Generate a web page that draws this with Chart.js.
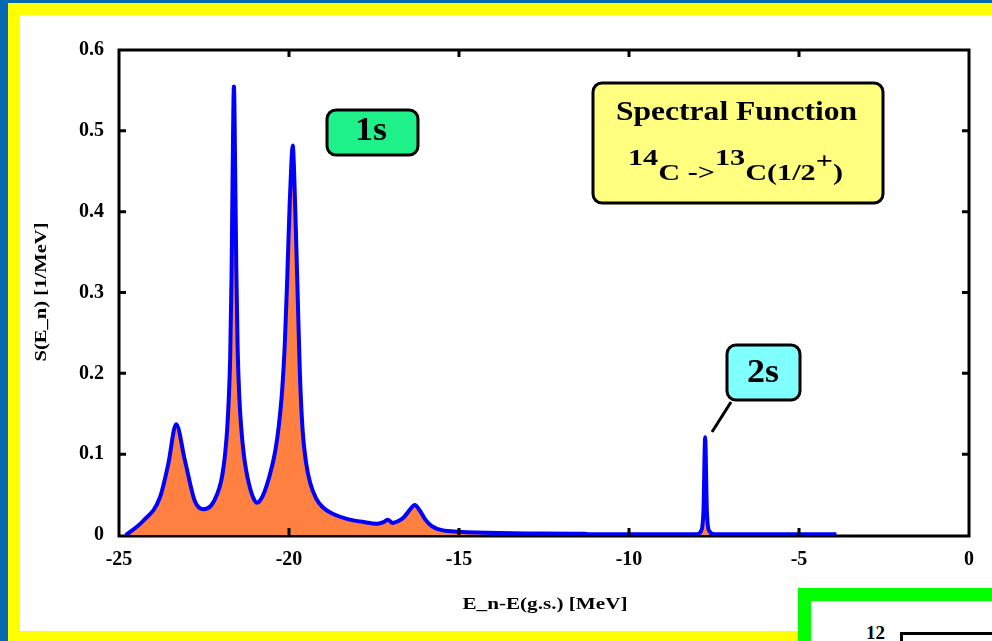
<!DOCTYPE html>
<html>
<head>
<meta charset="utf-8">
<script src="https://cdn.jsdelivr.net/npm/chart.js@4.4.0/dist/chart.umd.min.js"></script>
<style>
  html, body { margin: 0; padding: 0; background: #0568b0; }
  #page { position: relative; width: 992px; height: 641px; overflow: hidden; background: #0568b0; }
  #yellow { position: absolute; left: 8px; top: 3px; width: 1000px; height: 700px; background: #ffff00; }
  #panel { position: absolute; left: 20px; top: 15px; width: 1000px; height: 616px; background: #fff; }
  #chart { position: absolute; left: 0; top: 0; }
  #inset { position: absolute; left: 798px; top: 588px; width: 300px; height: 100px; background: #00ff00; }
  #insetInner { position: absolute; left: 13px; top: 13px; right: 0; bottom: 0; background: #fff; }
  #insetTick { position: absolute; left: 55px; top: 21px; font: bold 19px 'Liberation Serif', serif; }
  #insetFrame { position: absolute; left: 89px; top: 31px; width: 300px; height: 100px; border: 3px solid #000; }
</style>
</head>
<body>
<div id="page">
  <div id="yellow"></div>
  <div id="panel"></div>
  <canvas id="chart" width="992" height="641"></canvas>
  <div id="inset"><div id="insetInner"><div id="insetTick">12</div><div id="insetFrame"></div></div></div>
</div>
<script>
// E_n - E(g.s.) [MeV]
const energy = [
  -24.8, -24.3, -23.8, -23.55, -23.32, -23.06, -22.77, -22.53, -22.3, -22.1,
  -22.0, -21.94, -21.88, -21.82, -21.77, -21.73, -21.69, -21.66, -21.62, -21.58,
  -21.55, -21.51, -21.46, -21.4, -21.33, -21.26, -21.17, -21.05, -20.94, -20.8,
  -20.65, -20.5, -20.4, -20.3, -20.2, -20.12, -20.05, -19.98, -19.93, -19.89,
  -19.85, -19.8, -19.74, -19.68, -19.6, -19.5, -19.38, -19.2, -19.0, -18.7,
  -18.3, -17.8, -17.4, -17.22, -17.1, -16.95, -16.8, -16.62, -16.45, -16.3,
  -16.15, -15.99, -15.8, -15.5, -15.0, -14.5, -13.0, -11.3, -11.2, -8.0,
  -7.88, -7.81, -7.76, -7.71, -7.64, -7.5, -3.9
];
// S(E_n) [1/MeV]
const strength = [
  0.0, 0.017, 0.046, 0.088, 0.137, 0.092, 0.042, 0.032, 0.036, 0.052,
  0.066, 0.08, 0.10, 0.13, 0.17, 0.22, 0.32, 0.44, 0.555, 0.44,
  0.33, 0.23, 0.17, 0.13, 0.10, 0.08, 0.062, 0.046, 0.04, 0.046,
  0.062, 0.085, 0.105, 0.135, 0.18, 0.24, 0.32, 0.41, 0.46, 0.482,
  0.45, 0.38, 0.29, 0.20, 0.13, 0.09, 0.065, 0.045, 0.034, 0.026,
  0.02, 0.016, 0.014, 0.016, 0.019, 0.015, 0.017, 0.022, 0.031, 0.037,
  0.03, 0.019, 0.011, 0.006, 0.004, 0.003, 0.002, 0.0015, 0.001, 0.001,
  0.005, 0.03, 0.121, 0.03, 0.005, 0.001, 0.001
];
const xTicks = [-25, -20, -15, -10, -5, 0];
const yTicks = [0, 0.1, 0.2, 0.3, 0.4, 0.5, 0.6];

const SERIF = "'Liberation Serif', 'Times New Roman', serif";

// draw text pieces stretched to a given width, centred on cx
function stretchText(ctx, parts, cx, targetW) {
  let total = 0;
  parts.forEach(p => { ctx.font = p.font; p.w = ctx.measureText(p.text).width; total += p.w; });
  const s = targetW / total;
  ctx.save();
  ctx.translate(cx - targetW / 2, 0);
  ctx.scale(s, 1);
  let x = 0;
  parts.forEach(p => {
    ctx.font = p.font;
    ctx.textAlign = 'left';
    ctx.textBaseline = 'alphabetic';
    ctx.fillText(p.text, x, p.y);
    x += p.w;
  });
  ctx.restore();
}

function box(ctx, x, y, w, h, fill) {
  ctx.save();
  ctx.beginPath();
  ctx.roundRect(x, y, w, h, 9);
  ctx.fillStyle = fill;
  ctx.fill();
  ctx.lineWidth = 3;
  ctx.strokeStyle = '#000';
  ctx.stroke();
  ctx.restore();
}

const decorations = {
  id: 'decorations',
  beforeDatasetsDraw(chart) {
    const { ctx, chartArea: a } = chart;
    ctx.save();
    ctx.strokeStyle = '#000';
    ctx.lineWidth = 3;
    ctx.strokeRect(a.left, a.top, a.right - a.left, a.bottom + 1 - a.top);
    ctx.restore();
  },
  afterDatasetsDraw(chart) {
    const { ctx, chartArea: a, scales } = chart;
    ctx.save();
    ctx.strokeStyle = '#000';
    ctx.lineWidth = 3;
    ctx.beginPath();
    xTicks.slice(1, -1).forEach(v => {
      const px = scales.x.getPixelForValue(v);
      ctx.moveTo(px, a.bottom); ctx.lineTo(px, a.bottom - 7);
      ctx.moveTo(px, a.top); ctx.lineTo(px, a.top + 7);
    });
    yTicks.slice(1, -1).forEach(v => {
      const py = scales.y.getPixelForValue(v);
      ctx.moveTo(a.left, py); ctx.lineTo(a.left + 7, py);
      ctx.moveTo(a.right, py); ctx.lineTo(a.right - 7, py);
    });
    ctx.stroke();
    ctx.restore();
  },
  afterDraw(chart) {
    const ctx = chart.ctx;
    ctx.save();
    ctx.fillStyle = '#000';

    // axis titles
    stretchText(ctx, [{ text: 'E_n-E(g.s.) [MeV]', font: `bold 17px ${SERIF}`, y: 609 }], 545, 165);
    ctx.save();
    ctx.translate(46, 292);
    ctx.rotate(-Math.PI / 2);
    stretchText(ctx, [{ text: 'S(E_n) [1/MeV]', font: `bold 17px ${SERIF}`, y: 0 }], 0, 139);
    ctx.restore();

    // 1s label
    box(ctx, 327, 110, 91, 45, '#1ef08a');
    ctx.fillStyle = '#000';
    stretchText(ctx, [{ text: '1s', font: `bold 33px ${SERIF}`, y: 140 }], 371, 32);

    // spectral function box
    box(ctx, 593, 83, 290, 120, '#ffff80');
    ctx.fillStyle = '#000';
    stretchText(ctx, [{ text: 'Spectral Function', font: `bold 27px ${SERIF}`, y: 120 }], 736.5, 241);
    const f = `bold 23px ${SERIF}`;
    stretchText(ctx, [
      { text: '14', font: f, y: 165 },
      { text: 'C ->', font: f, y: 180 },
      { text: '13', font: f, y: 165 },
      { text: 'C(1/2', font: f, y: 180 },
      { text: '+', font: f, y: 168 },
      { text: ')', font: f, y: 180 }
    ], 735.5, 215);

    // 2s label with leader
    ctx.beginPath();
    ctx.moveTo(731, 402);
    ctx.lineTo(712, 432);
    ctx.lineWidth = 3;
    ctx.strokeStyle = '#000';
    ctx.stroke();
    box(ctx, 727, 345, 73, 55, '#80ffff');
    ctx.fillStyle = '#000';
    stretchText(ctx, [{ text: '2s', font: `bold 33px ${SERIF}`, y: 382 }], 763, 32);

    ctx.restore();
  }
};

new Chart(document.getElementById('chart'), {
  type: 'line',
  data: {
    datasets: [{
      data: energy.map((e, i) => ({ x: e, y: strength[i] })),
      borderColor: '#0000ff',
      borderWidth: 4,
      borderJoinStyle: 'round',
      backgroundColor: '#ff8040',
      fill: 'origin',
      pointRadius: 0,
      cubicInterpolationMode: 'monotone'
    }]
  },
  options: {
    responsive: false,
    animation: false,
    devicePixelRatio: 1,
    layout: { padding: { left: 20, top: 50, right: 23, bottom: 46 } },
    plugins: { legend: { display: false }, tooltip: { enabled: false } },
    scales: {
      x: {
        type: 'linear',
        min: -25,
        max: 0,
        afterFit: s => { s.height = 60; },
        afterBuildTicks: s => { s.ticks = xTicks.map(v => ({ value: v })); },
        grid: { display: false, drawTicks: false },
        border: { display: false },
        ticks: { padding: 13, color: '#000', font: { family: SERIF, weight: 'bold', size: 20 }, callback: v => String(v) }
      },
      y: {
        min: 0,
        max: 0.6,
        afterFit: s => { s.width = 99; },
        afterBuildTicks: s => { s.ticks = yTicks.map(v => ({ value: v })); },
        grid: { display: false, drawTicks: false },
        border: { display: false },
        ticks: { padding: 15, color: '#000', font: { family: SERIF, weight: 'bold', size: 20 }, callback: v => (v === 0 ? '0' : v.toFixed(1)) }
      }
    }
  },
  plugins: [decorations]
});
</script>
</body>
</html>
